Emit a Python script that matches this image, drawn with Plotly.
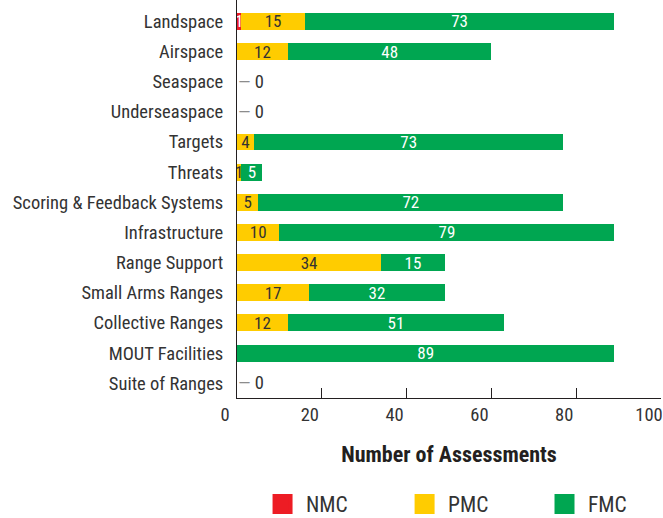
import plotly.graph_objects as go

# Assessment counts by range component
categories = [
    "Landspace", "Airspace", "Seaspace", "Underseaspace", "Targets", "Threats",
    "Scoring & Feedback Systems", "Infrastructure", "Range Support",
    "Small Arms Ranges", "Collective Ranges", "MOUT Facilities", "Suite of Ranges",
]
nmc = [1, 0, 0, 0, 0, 0, 0, 0, 0, 0, 0, 0, 0]
pmc = [15, 12, 0, 0, 4, 1, 5, 10, 34, 17, 12, 0, 0]
fmc = [73, 48, 0, 0, 73, 5, 72, 79, 15, 32, 51, 89, 0]

x_ticks = [0, 20, 40, 60, 80, 100]

series = [
    ("NMC", nmc, "#ED1C24", "white"),
    ("PMC", pmc, "#FFCC00", "#333333"),
    ("FMC", fmc, "#00A651", "white"),
]

FONT = "Roboto Condensed, Liberation Sans Narrow, DejaVu Sans Condensed, sans-serif"
DARK = "#231F20"
TEXT = "#333333"

fig = go.Figure()

for name, vals, color, txtcolor in series:
    fig.add_trace(go.Bar(
        name=name,
        orientation="h",
        x=vals,
        y=categories,
        marker=dict(color=color, line=dict(width=0)),
        text=[str(v) if v > 0 else "" for v in vals],
        textposition="inside",
        insidetextanchor="middle",
        textangle=0,
        constraintext="none",
        textfont=dict(family=FONT, size=17, color=txtcolor),
        showlegend=False,
        hoverinfo="x+y+name",
    ))

# One legend per series so the entries can be spaced evenly below the axis
legend_names = ["legend", "legend2", "legend3"]
legend_x = [0.052, 0.387, 0.717]
for (name, vals, color, txtcolor), lg in zip(series, legend_names):
    fig.add_trace(go.Scatter(
        name=name,
        x=[None], y=[None],
        mode="markers",
        marker=dict(symbol="square", size=16, color=color,
                    line=dict(color=color, width=4)),
        showlegend=True,
        legend=lg,
    ))

# "0" markers for components with no assessments
for cat, a, b, c in zip(categories, nmc, pmc, fmc):
    if a + b + c == 0:
        fig.add_annotation(
            x=0, y=cat, xref="x", yref="y",
            text="<span style='color:#8c8c8c'>\u2014</span> 0",
            showarrow=False, xanchor="left", xshift=-1,
            font=dict(family=FONT, size=18.5, color=TEXT),
        )

legend_style = dict(
    orientation="h",
    xanchor="left",
    yref="container",
    y=0.027, yanchor="middle",
    font=dict(family=FONT, size=21.5, color=TEXT),
    itemsizing="trace",
    itemwidth=37,
    bgcolor="rgba(0,0,0,0)",
)

fig.update_layout(
    width=663, height=518,
    margin=dict(l=237, r=2, t=0, b=120),
    paper_bgcolor="white", plot_bgcolor="white",
    barmode="stack",
    bargap=0.44,
    font=dict(family=FONT, color=TEXT),
    legend=dict(x=legend_x[0], **legend_style),
    legend2=dict(x=legend_x[1], **legend_style),
    legend3=dict(x=legend_x[2], **legend_style),
)

fig.update_xaxes(
    range=[0, 100],
    tickvals=x_ticks,
    ticks="inside", ticklen=10, tickwidth=1, tickcolor=DARK,
    showline=True, linecolor=DARK, linewidth=1,
    showgrid=False, zeroline=False,
    tickfont=dict(family=FONT, size=18.5, color=TEXT),
    ticklabelshift=-12,
    ticklabelstandoff=0,
    ticklabeloverflow="allow",
    automargin=False,
    title=dict(text="<b>Number of Assessments</b>",
               font=dict(family=FONT, size=22, color=DARK), standoff=21),
)

fig.update_yaxes(
    categoryorder="array", categoryarray=categories,
    range=[12.49, -0.71],
    showline=True, linecolor=DARK, linewidth=1,
    showgrid=False, zeroline=False,
    ticks="",
    automargin=False,
    tickfont=dict(family=FONT, size=18.5, color=TEXT),
    ticklabelstandoff=9,
)

fig.write_html("out.html")
